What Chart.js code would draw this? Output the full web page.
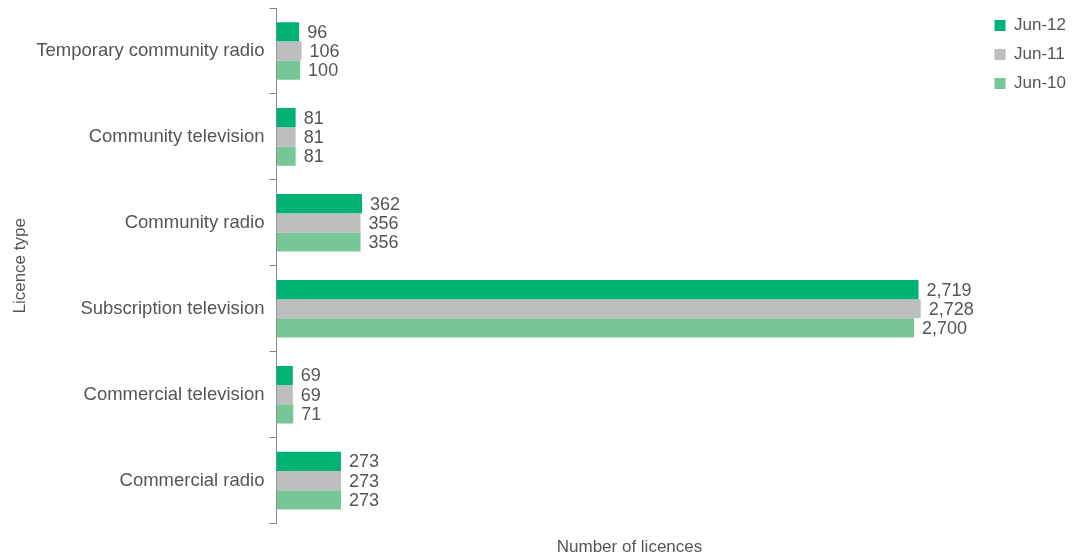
<!DOCTYPE html>
<html>
<head>
<meta charset="utf-8">
<script src="https://cdn.jsdelivr.net/npm/chart.js@4/dist/chart.umd.min.js"></script>
<style>
  html, body { margin: 0; padding: 0; background: #fff; }
  #wrap { width: 1076px; height: 558px; }
</style>
</head>
<body>
<div id="wrap"><canvas id="chart" width="1076" height="558"></canvas></div>
<script>
// --- Datos ---
const licenceTypes = [
  "Temporary community radio",
  "Community television",
  "Community radio",
  "Subscription television",
  "Commercial television",
  "Commercial radio"
];
const jun12 = [96, 81, 362, 2719, 69, 273];
const jun11 = [106, 81, 356, 2728, 69, 273];
const jun10 = [100, 81, 356, 2700, 71, 273];

const FONT = "'Liberation Sans', Arial, sans-serif";
const TEXT = "#555";

// etiquetas de valor al final de cada barra
const valueLabels = {
  id: "valueLabels",
  afterDatasetsDraw(chart) {
    const ctx = chart.ctx;
    ctx.save();
    ctx.font = "18px " + FONT;
    ctx.fillStyle = TEXT;
    ctx.textBaseline = "middle";
    ctx.textAlign = "left";
    chart.data.datasets.forEach((ds, i) => {
      const meta = chart.getDatasetMeta(i);
      meta.data.forEach((bar, j) => {
        ctx.fillText(ds.data[j].toLocaleString("en-US"), bar.x + 8, bar.y + 1);
      });
    });
    ctx.restore();
  }
};

const ctx = document.getElementById("chart").getContext("2d");
new Chart(ctx, {
  type: "bar",
  data: {
    labels: licenceTypes,
    datasets: [
      { label: "Jun-12", data: jun12, backgroundColor: "#00b373" },
      { label: "Jun-11", data: jun11, backgroundColor: "#bdbec0" },
      { label: "Jun-10", data: jun10, backgroundColor: "#76c697" }
    ]
  },
  options: {
    indexAxis: "y",
    responsive: false,
    animation: false,
    // el eje y queda limitado a la mitad del ancho entre dos cajas verticales
    layout: { padding: { top: 5, right: 0, bottom: 0, left: 10 } },
    datasets: {
      bar: { categoryPercentage: 0.67, barPercentage: 1.0 }
    },
    scales: {
      x: {
        min: 0,
        max: 2990,
        ticks: { display: false },
        grid: { display: false },
        border: { display: false },
        title: {
          display: true,
          text: "Number of licences",
          color: TEXT,
          font: { family: FONT, size: 17 },
          padding: { top: 6, bottom: 0 }
        }
      },
      y: {
        // sin el relleno extra que deja la primera/última etiqueta
        afterFit(scale) {
          scale.paddingTop = 8;
          scale.paddingBottom = 0;
        },
        grid: {
          offset: true,
          drawOnChartArea: false,
          drawTicks: true,
          tickLength: 7,
          color: "#888"
        },
        border: { display: true, color: "#888", width: 1 },
        ticks: {
          color: TEXT,
          font: { family: FONT, size: 18.5 },
          padding: 5
        },
        title: {
          display: true,
          text: "Licence type",
          color: TEXT,
          font: { family: FONT, size: 17 },
          padding: { top: 0, bottom: 17 }
        }
      }
    },
    plugins: {
      legend: {
        position: "right",
        align: "start",
        labels: {
          boxWidth: 11,
          boxHeight: 11,
          padding: 12,
          color: TEXT,
          font: { family: FONT, size: 17 }
        }
      },
      tooltip: { enabled: false }
    }
  },
  plugins: [valueLabels]
});
</script>
</body>
</html>
